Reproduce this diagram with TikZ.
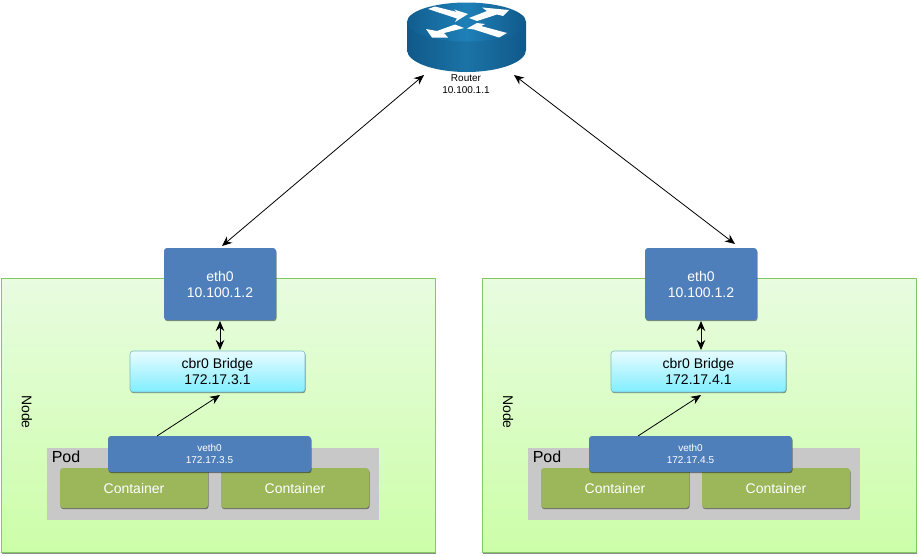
\documentclass[tikz,border=0pt]{standalone}
\usepackage{fontspec}
\setmainfont{Liberation Sans}
\usetikzlibrary{arrows.meta,shadows}
\definecolor{blueface}{HTML}{4F7FBB}
\definecolor{greenface}{HTML}{9BB75A}
\definecolor{podgray}{HTML}{C8C8C8}
\definecolor{routerdark}{HTML}{10598A}
\definecolor{routerlight}{HTML}{1E80B8}
\definecolor{hostedge}{HTML}{84C862}
\definecolor{hosttop}{HTML}{E8FCE0}
\definecolor{hostbottom}{HTML}{CCFEA8}
\definecolor{bridgeedge}{HTML}{7CBCC8}
\definecolor{bridgetopc}{HTML}{E8FCFF}
\definecolor{bridgebottom}{HTML}{80EEFF}
\tikzset{
  boxshadow/.style={drop shadow={shadow xshift=.6pt,shadow yshift=-1.2pt,opacity=.45,fill=black}},
  hostbox/.style={draw=hostedge,line width=.9pt,top color=hosttop,bottom color=hostbottom,boxshadow,inner sep=0},
  ethbox/.style={rounded corners=3pt,fill=blueface,text=white,align=center,font=\fontsize{14}{16}\selectfont,boxshadow,inner sep=0},
  vethbox/.style={ethbox,font=\fontsize{10}{12}\selectfont},
  bridgebox/.style={rounded corners=3pt,draw=bridgeedge,line width=.6pt,top color=bridgetopc,bottom color=bridgebottom,align=center,font=\fontsize{14}{16}\selectfont,boxshadow,inner sep=0},
  containerbox/.style={rounded corners=3pt,fill=greenface,text=white,font=\fontsize{14}{16}\selectfont,boxshadow,inner sep=0},
  wire/.style={line width=.8pt,>={Stealth[length=10pt,width=8.5pt]}}
}
\begin{document}
\begin{tikzpicture}[x=1pt,y=-1pt]
\useasboundingbox (0,0) rectangle (919,557);
% hosts
\foreach \dx/\net/\n in {0/3/a,481/4/b}{
  \begin{scope}[xshift=\dx pt]
  \node[hostbox,anchor=north west,minimum width=433.5pt,minimum height=274pt] (host\n) at (1,278) {};
  \node[rotate=-90,font=\fontsize{14}{16}\selectfont] (hostlabel\n) at (27,412) {Node};
  \node[fill=podgray,inner sep=0,anchor=north west,minimum width=332pt,minimum height=72pt] (pod\n) at (47,448) {};
  \node[font=\fontsize{16}{18}\selectfont] (podlabel\n) at (66,456.5) {Pod};
  \node[containerbox,minimum width=148pt,minimum height=40pt] (ca\n) at (134,488) {Container};
  \node[containerbox,minimum width=148pt,minimum height=40pt] (cb\n) at (295,488) {Container};
  \node[vethbox,minimum width=203pt,minimum height=36pt] (veth\n) at (209.5,454) {veth0\\172.17.\net.5};
  \node[bridgebox,minimum width=175pt,minimum height=41pt] (bridge\n) at (217.5,371.5) {cbr0 Bridge\\172.17.\net.1};
  \node[ethbox,minimum width=112pt,minimum height=72pt] (eth\n) at (220,284) {eth0\\10.100.1.2};
  \coordinate (bridgein\n) at (220,395);
  \coordinate (vethout\n) at (157,436);
  \coordinate (bridgetop\n) at (220,350);
  \coordinate (ethbot\n) at (220,321);
  \draw[wire,<->] (ethbot\n) -- (bridgetop\n);
  \draw[wire,->] (vethout\n) -- (bridgein\n);
  \end{scope}
}
% router
\shade[left color=routerdark,right color=routerdark,middle color=routerlight!90!black] (407,22) -- (407,50) arc[start angle=180,end angle=0,x radius=59.5,y radius=22] -- (526,22) -- cycle;
\shade[left color=routerdark!90!routerlight,right color=routerdark,middle color=routerlight] (466.5,22) ellipse[x radius=59.5,y radius=19.5];
\fill[white] (428,9) -- (435,6.5) -- (457,12) -- (454,9.5) -- (468,14) -- (455,22) -- (457,18.5) -- cycle;
\fill[white] (469,18) -- (477,21) -- (497,14.5) -- (503,16) -- (509,10) -- (482,7.5) -- (487,11) -- cycle;
\fill[white] (507,33) -- (499,37.5) -- (474,29.5) -- (467,28.5) -- (477,23) -- (485,24) -- (481,26) -- cycle;
\fill[white] (455,24.5) -- (464,28) -- (444,33) -- (448,37.5) -- (432,37.5) -- (426,29) -- (437,31) -- cycle;
\node[inner sep=0,minimum width=119pt,minimum height=72pt] (router) at (466.5,36) {};
\node[align=center,font=\fontsize{10}{12}\selectfont,inner sep=0] (routerlabel) at (466,84) {Router\\10.100.1.1};
\coordinate (routerwest) at (424,75);
\coordinate (routereast) at (514,75);
\coordinate (ethtopa) at (222,246);
\coordinate (ethtopb) at (735,244);
\draw[wire,<->] (routerwest) -- (ethtopa);
\draw[wire,<->] (routereast) -- (ethtopb);
\end{tikzpicture}
\end{document}
